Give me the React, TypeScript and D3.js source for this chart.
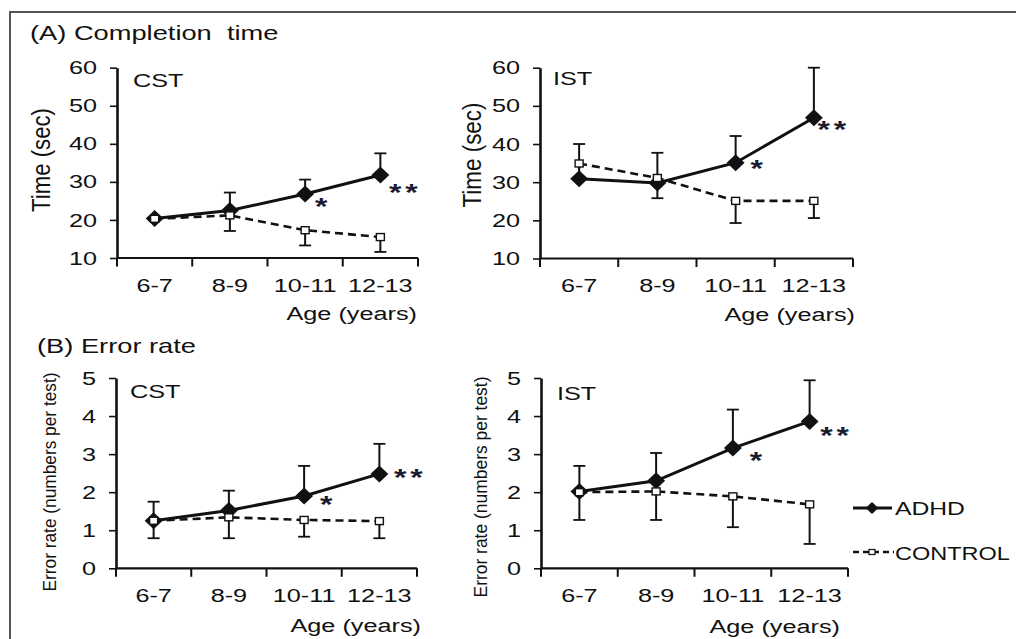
import * as d3 from 'd3';
import { useEffect, useRef } from 'react';

const ageGroups = ['6-7', '8-9', '10-11', '12-13'];

// (A) completion time, seconds
const timeTicks = [10, 20, 30, 40, 50, 60];
const cstTimeAdhd = [20.4, 22.5, 26.8, 31.8];
const cstTimeAdhdErr = [0.4, 4.7, 3.8, 5.7];
const cstTimeCtrl = [20.3, 21.2, 17.3, 15.5];
const cstTimeCtrlErr = [0.4, 4.1, 4.0, 3.9];
const istTimeAdhd = [30.9, 29.8, 35.1, 46.9];
const istTimeAdhdErr = [9.1, 7.9, 7.0, 13.1];
const istTimeCtrl = [34.9, 31.1, 25.1, 25.1];
const istTimeCtrlErr = [3.5, 5.3, 5.8, 4.5];

// (B) error rate, numbers per test
const errorTicks = [0, 1, 2, 3, 4, 5];
const cstErrAdhd = [1.25, 1.52, 1.9, 2.48];
const cstErrAdhdErr = [0.5, 0.52, 0.79, 0.79];
const cstErrCtrl = [1.25, 1.34, 1.27, 1.24];
const cstErrCtrlErr = [0.46, 0.55, 0.44, 0.45];
const istErrAdhd = [2.02, 2.3, 3.16, 3.86];
const istErrAdhdErr = [0.67, 0.73, 1.01, 1.08];
const istErrCtrl = [2.0, 2.02, 1.89, 1.68];
const istErrCtrlErr = [0.73, 0.75, 0.81, 1.04];

const W = 1016;
const H = 639;
const SX = 1.33; // the source figure is stretched sideways
const FONT = '"Liberation Sans", Arial, sans-serif';
const INK = '#111';

const panels = [
  {
    x0: 117, x1: 418, yTop: 67.7, yBot: 258, ticks: timeTicks, name: 'CST', nameX: 133, nameY: 87,
    adhd: cstTimeAdhd, adhdErr: cstTimeAdhdErr, ctrl: cstTimeCtrl, ctrlErr: cstTimeCtrlErr,
    yTitle: 'Time (sec)', yTitleX: 50, yTitleY: 160, yTitleLen: 104, yTitleSize: 19,
    ageRight: 417, ageY: 320, star1: [18, 8], star2: [25, 13],
  },
  {
    x0: 540, x1: 853, yTop: 67.7, yBot: 258.5, ticks: timeTicks, name: 'IST', nameX: 553, nameY: 85,
    adhd: istTimeAdhd, adhdErr: istTimeAdhdErr, ctrl: istTimeCtrl, ctrlErr: istTimeCtrlErr,
    yTitle: 'Time (sec)', yTitleX: 481, yTitleY: 155, yTitleLen: 105, yTitleSize: 19,
    ageRight: 855, ageY: 321, star1: [23, 1], star2: [20, 7],
  },
  {
    x0: 116, x1: 417, yTop: 378, yBot: 568.3, ticks: errorTicks, name: 'CST', nameX: 130, nameY: 398,
    adhd: cstErrAdhd, adhdErr: cstErrAdhdErr, ctrl: cstErrCtrl, ctrlErr: cstErrCtrlErr,
    yTitle: 'Error rate (numbers per test)', yTitleX: 56, yTitleY: 482, yTitleLen: 219, yTitleSize: 14,
    ageRight: 421, ageY: 632, star1: [24, 4], star2: [31, -1],
  },
  {
    x0: 541, x1: 848, yTop: 378, yBot: 568.3, ticks: errorTicks, name: 'IST', nameX: 557, nameY: 400,
    adhd: istErrAdhd, adhdErr: istErrAdhdErr, ctrl: istErrCtrl, ctrlErr: istErrCtrlErr,
    yTitle: 'Error rate (numbers per test)', yTitleX: 487, yTitleY: 487, yTitleLen: 221, yTitleSize: 14,
    ageRight: 840, ageY: 633, star1: [25, 8], star2: [27, 10],
  },
];

const diamondPath = (r) => `M0,${-r}L${r * 1.05},0L0,${r}L${-r * 1.05},0Z`;

function label(g, x, y, str, size = 19, anchor = 'start', sx = SX) {
  return g.append('text')
    .attr('transform', `translate(${x},${y}) scale(${sx},1)`)
    .attr('text-anchor', anchor)
    .style('font-family', FONT)
    .style('font-size', `${size}px`)
    .style('fill', INK)
    .style('white-space', 'pre')
    .text(str);
}

function drawPanel(svg, p) {
  const g = svg.append('g');
  const x = d3.scaleBand().domain(ageGroups).range([p.x0, p.x1]);
  const cx = (i) => x(ageGroups[i]) + x.bandwidth() / 2;
  const y = d3.scaleLinear().domain([p.ticks[0], p.ticks[p.ticks.length - 1]]).range([p.yBot, p.yTop]);

  // y axis
  g.append('g')
    .attr('transform', `translate(${p.x0},0)`)
    .call(d3.axisLeft(y).tickValues(p.ticks).tickFormat(d3.format('d'))
      .tickSizeInner(7).tickSizeOuter(0).tickPadding(13))
    .call((a) => a.select('.domain').attr('stroke', INK).attr('stroke-width', 2.6))
    .call((a) => a.selectAll('.tick line').attr('stroke', INK).attr('stroke-width', 1.6))
    .call((a) => a.selectAll('.tick text')
      .attr('x', -20 / SX)
      .attr('transform', `scale(${SX},1)`)
      .style('font-family', FONT)
      .style('font-size', '19px')
      .style('fill', INK));

  // x axis: labels centred, ticks between categories
  g.append('g')
    .attr('transform', `translate(0,${p.yBot})`)
    .call(d3.axisBottom(x).tickSize(0).tickPadding(20.5))
    .call((a) => a.select('.domain').remove())
    .call((a) => a.selectAll('.tick text')
      .attr('transform', `scale(${SX},1)`)
      .style('font-family', FONT)
      .style('font-size', '19px')
      .style('fill', INK));

  g.append('line')
    .attr('x1', p.x0).attr('x2', p.x1)
    .attr('y1', p.yBot).attr('y2', p.yBot)
    .attr('stroke', INK).attr('stroke-width', 2.2);

  const bounds = [...ageGroups.map((a) => x(a)), x.range()[1]];
  g.selectAll('line.xtick')
    .data(bounds)
    .enter()
    .append('line')
    .attr('class', 'xtick')
    .attr('x1', (d) => d).attr('x2', (d) => d)
    .attr('y1', p.yBot).attr('y2', p.yBot + 8.5)
    .attr('stroke', INK).attr('stroke-width', 2);

  const line = d3.line().x((_, i) => cx(i)).y((v) => y(v));

  // ADHD: up error bars, solid line, filled diamonds
  p.adhd.forEach((v, i) => {
    const top = y(v + p.adhdErr[i]);
    g.append('line').attr('x1', cx(i)).attr('x2', cx(i)).attr('y1', y(v)).attr('y2', top)
      .attr('stroke', INK).attr('stroke-width', 2);
    g.append('line').attr('x1', cx(i) - 6).attr('x2', cx(i) + 6).attr('y1', top).attr('y2', top)
      .attr('stroke', INK).attr('stroke-width', 1.8);
  });
  g.append('path').datum(p.adhd).attr('d', line)
    .attr('fill', 'none').attr('stroke', INK).attr('stroke-width', 3);
  g.selectAll('path.adhd')
    .data(p.adhd)
    .enter()
    .append('path')
    .attr('class', 'adhd')
    .attr('transform', (v, i) => `translate(${cx(i)},${y(v)})`)
    .attr('d', diamondPath(8.5))
    .attr('fill', INK);

  // CONTROL: down error bars, dashed line, open squares
  p.ctrl.forEach((v, i) => {
    const bot = y(v - p.ctrlErr[i]);
    g.append('line').attr('x1', cx(i)).attr('x2', cx(i)).attr('y1', y(v)).attr('y2', bot)
      .attr('stroke', INK).attr('stroke-width', 2);
    g.append('line').attr('x1', cx(i) - 6).attr('x2', cx(i) + 6).attr('y1', bot).attr('y2', bot)
      .attr('stroke', INK).attr('stroke-width', 1.8);
  });
  g.append('path').datum(p.ctrl).attr('d', line)
    .attr('fill', 'none').attr('stroke', INK).attr('stroke-width', 2.6)
    .attr('stroke-dasharray', '8,5');
  g.selectAll('rect.ctrl')
    .data(p.ctrl)
    .enter()
    .append('rect')
    .attr('class', 'ctrl')
    .attr('x', (v, i) => cx(i) - 4)
    .attr('y', (v) => y(v) - 3.5)
    .attr('width', 8)
    .attr('height', 7)
    .attr('fill', '#fff')
    .attr('stroke', INK)
    .attr('stroke-width', 1.4);

  // significance stars next to the ADHD points
  const starText = (i, off, str) => g.append('text')
    .attr('transform', `translate(${cx(i) + off[0]},${y(p.adhd[i]) + off[1] + 13}) scale(${SX},1)`)
    .attr('text-anchor', 'middle')
    .style('font-family', FONT)
    .style('font-size', '24px')
    .style('font-weight', 'bold')
    .style('letter-spacing', '3px')
    .style('fill', '#1a1a30')
    .text(str);
  starText(2, p.star1, '*');
  starText(3, p.star2, '**');

  label(g, p.nameX, p.nameY, p.name);
  label(g, p.ageRight, p.ageY, 'Age (years)', 19, 'end');

  g.append('text')
    .attr('transform', `translate(${p.yTitleX},${p.yTitleY}) rotate(-90) scale(1,${SX})`)
    .attr('text-anchor', 'middle')
    .attr('textLength', p.yTitleLen)
    .attr('lengthAdjust', 'spacingAndGlyphs')
    .style('font-family', FONT)
    .style('font-size', `${p.yTitleSize}px`)
    .style('fill', INK)
    .text(p.yTitle);
}

function Figure() {
  const ref = useRef(null);

  useEffect(() => {
    const svg = d3.select(ref.current);
    svg.selectAll('*').remove();

    svg.append('rect').attr('width', W).attr('height', H).attr('fill', '#fff');

    // frame (top and left edges only are visible)
    svg.append('path')
      .attr('d', `M10,${H}V12H${W}`)
      .attr('fill', 'none')
      .attr('stroke', '#555')
      .attr('stroke-width', 2);

    label(svg, 30, 40, '(A) Completion  time', 20.5);
    label(svg, 37, 353, '(B) Error rate', 20.5);

    panels.forEach((p) => drawPanel(svg, p));

    // legend
    const lg = svg.append('g');
    lg.append('line').attr('x1', 853).attr('x2', 892).attr('y1', 508).attr('y2', 508)
      .attr('stroke', INK).attr('stroke-width', 3);
    lg.append('path').attr('transform', 'translate(872,508)').attr('d', diamondPath(6)).attr('fill', INK);
    label(lg, 895, 515, 'ADHD', 19, 'start', 1.3);
    lg.append('line').attr('x1', 853).attr('x2', 894).attr('y1', 552).attr('y2', 552)
      .attr('stroke', INK).attr('stroke-width', 2.6).attr('stroke-dasharray', '6,4');
    lg.append('rect').attr('x', 869).attr('y', 549.5).attr('width', 6).attr('height', 5)
      .attr('fill', '#fff').attr('stroke', INK).attr('stroke-width', 1.2);
    label(lg, 895, 560, 'CONTROL', 18.5, 'start', 1.27);

    return () => {
      svg.selectAll('*').remove();
    };
  }, []);

  return (
    <svg
      ref={ref}
      width={W}
      height={H}
      style={{ position: 'absolute', left: 0, top: 0, display: 'block' }}
      role="img"
      aria-label="Completion time and error rate by age, ADHD vs control"
    />
  );
}

export default function App() {
  return <Figure />;
}
